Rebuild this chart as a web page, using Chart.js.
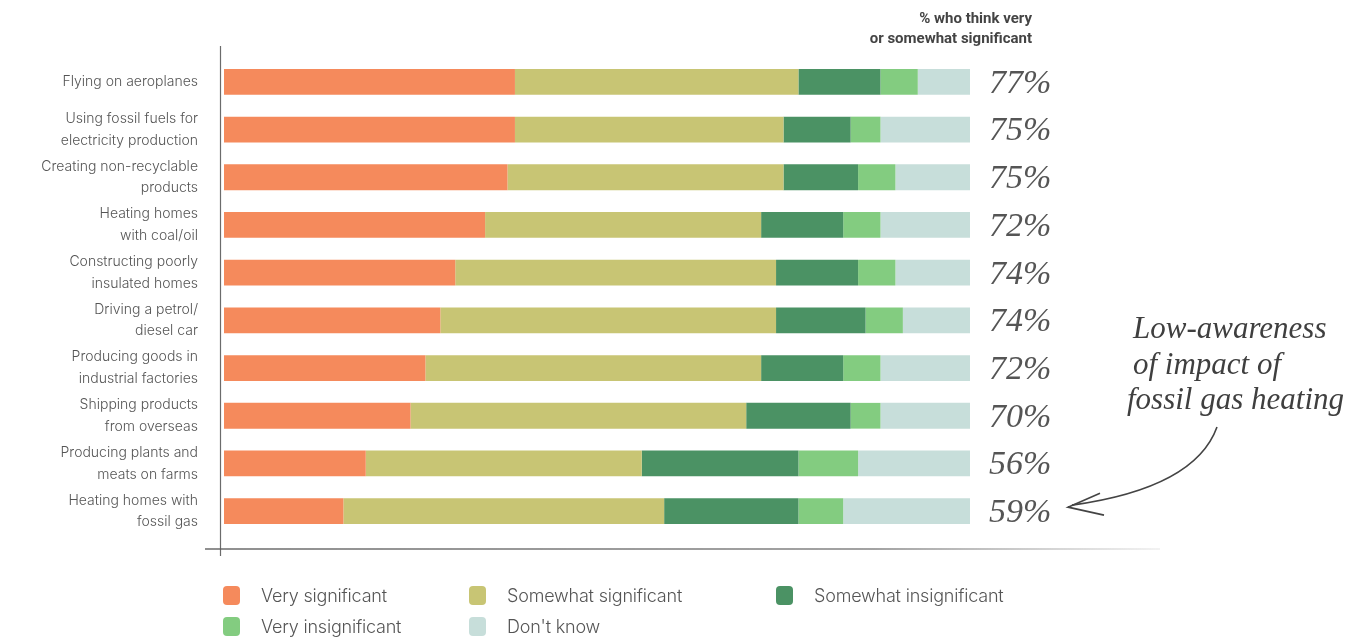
<!DOCTYPE html>
<html>
<head>
<meta charset="utf-8">
<script src="https://cdn.jsdelivr.net/npm/chart.js@4.4.0/dist/chart.umd.min.js"></script>
<style>
  html, body { margin: 0; padding: 0; background: #fff; }
  #wrap { position: relative; width: 1361px; height: 639px; }
  #legend { position: absolute; left: 223px; top: 585px; width: 900px; font-family: Inter, "Noto Sans", sans-serif; font-weight: 300; font-size: 18px; color: #555; letter-spacing: -0.2px; }
  .item { position: absolute; display: flex; align-items: center; height: 20px; }
  .sw { width: 17px; height: 19px; border-radius: 4px; margin-right: 21px; }
</style>
</head>
<body>
<div id="wrap">
  <canvas id="chart" width="1361" height="639"></canvas>
  <div id="legend"></div>
</div>

<script>
  // categories (top to bottom)
  const categories = [
    ['Flying on aeroplanes'],
    ['Using fossil fuels for', 'electricity production'],
    ['Creating non-recyclable', 'products'],
    ['Heating homes', 'with coal/oil'],
    ['Constructing poorly', 'insulated homes'],
    ['Driving a petrol/', 'diesel car'],
    ['Producing goods in', 'industrial factories'],
    ['Shipping products', 'from overseas'],
    ['Producing plants and', 'meats on farms'],
    ['Heating homes with', 'fossil gas']
  ];

  // share of respondents, %
  const verySignificant       = [39, 39, 38, 35, 31, 29, 27, 25, 19, 16];
  const somewhatSignificant   = [38, 36, 37, 37, 43, 45, 45, 45, 37, 43];
  const somewhatInsignificant = [11,  9, 10, 11, 11, 12, 11, 14, 21, 18];
  const veryInsignificant     = [ 5,  4,  5,  5,  5,  5,  5,  4,  8,  6];
  const dontKnow              = [ 7, 12, 10, 12, 10,  9, 12, 12, 15, 17];

  // % who think very or somewhat significant (right-hand column)
  const significantPct = [77, 75, 75, 72, 74, 74, 72, 70, 56, 59];

  const seriesNames  = ['Very significant', 'Somewhat significant', 'Somewhat insignificant', 'Very insignificant', "Don't know"];
  const seriesValues = [verySignificant, somewhatSignificant, somewhatInsignificant, veryInsignificant, dontKnow];
  const seriesColors = ['#F58A5C', '#C8C574', '#4B9264', '#83CC80', '#C7DEDA'];

  const annotationLines = ['Low-awareness', 'of impact of', 'fossil gas heating'];

  // extra drawing: axis lines, header, % column, note + arrow
  const decorations = {
    id: 'decorations',
    afterDatasetsDraw(chart) {
      const ctx = chart.ctx;
      ctx.save();

      // y axis line
      ctx.strokeStyle = '#6b6b6b';
      ctx.lineWidth = 1.2;
      ctx.beginPath();
      ctx.moveTo(220.5, 46);
      ctx.lineTo(220.5, 556);
      ctx.stroke();

      // x axis line, fading out to the right
      const g = ctx.createLinearGradient(205, 0, 1160, 0);
      g.addColorStop(0, 'rgba(90,90,90,0.9)');
      g.addColorStop(0.7, 'rgba(90,90,90,0.75)');
      g.addColorStop(1, 'rgba(90,90,90,0.1)');
      ctx.strokeStyle = g;
      ctx.lineWidth = 1.5;
      ctx.beginPath();
      ctx.moveTo(205, 549);
      ctx.lineTo(1160, 549);
      ctx.stroke();

      // header
      ctx.fillStyle = '#444';
      ctx.font = 'bold 15px Roboto, "Noto Sans", sans-serif';
      ctx.textAlign = 'right';
      ctx.textBaseline = 'middle';
      ctx.fillText('% who think very', 1032, 19);
      ctx.fillText('or somewhat significant', 1032, 39);

      // % column, positioned on the bars
      const meta = chart.getDatasetMeta(seriesValues.length - 1);
      ctx.fillStyle = '#555';
      ctx.font = 'italic 34px "Liberation Serif", "DejaVu Serif", serif';
      ctx.textAlign = 'left';
      meta.data.forEach((bar, i) => {
        ctx.fillText(significantPct[i] + '%', 989, bar.y + 2);
      });

      // annotation
      ctx.fillStyle = '#3f3f3f';
      ctx.font = 'italic 31px "Liberation Serif", "DejaVu Serif", serif';
      ctx.fillText(annotationLines[0], 1133, 330);
      ctx.fillText(annotationLines[1], 1133, 366);
      ctx.fillText(annotationLines[2], 1127, 401);

      const last = meta.data[meta.data.length - 1];
      ctx.strokeStyle = '#444';
      ctx.lineWidth = 1.6;
      ctx.beginPath();
      ctx.moveTo(1217, 427);
      ctx.quadraticCurveTo(1195, 488, 1072, last.y - 6);
      ctx.stroke();
      ctx.beginPath();
      ctx.moveTo(1100, last.y - 18);
      ctx.lineTo(1068, last.y - 4);
      ctx.lineTo(1104, last.y + 4);
      ctx.stroke();

      ctx.restore();
    }
  };

  new Chart('chart', {
    type: 'bar',
    data: {
      labels: categories,
      datasets: seriesValues.map((vals, k) => ({
        label: seriesNames[k],
        data: vals,
        backgroundColor: seriesColors[k],
        borderWidth: 0,
        barPercentage: 0.54,
        categoryPercentage: 1.0
      }))
    },
    options: {
      indexAxis: 'y',
      responsive: false,
      animation: false,
      layout: { padding: { left: 0, right: 391, top: 58, bottom: 104 } },
      scales: {
        x: { stacked: true, min: 0, max: 100, display: false },
        y: {
          stacked: true,
          border: { display: false },
          grid: { display: false, drawTicks: false },
          ticks: {
            padding: 26,
            color: '#555',
            font: { family: 'Inter, "Noto Sans", sans-serif', size: 14, weight: 300, lineHeight: 1.55 }
          },
          afterFit(scale) { scale.width = 224; }
        }
      },
      plugins: {
        legend: { display: false },
        tooltip: { enabled: false }
      }
    },
    plugins: [decorations]
  });

  // legend in two rows, like the original
  const legendPos = [[0, 0], [246, 0], [553, 0], [0, 31], [246, 31]];
  const legendEl = document.getElementById('legend');
  seriesNames.forEach((name, k) => {
    const it = document.createElement('div');
    it.className = 'item';
    it.style.left = legendPos[k][0] + 'px';
    it.style.top = legendPos[k][1] + 'px';
    it.innerHTML = '<span class="sw" style="background:' + seriesColors[k] + '"></span><span>' + name + '</span>';
    legendEl.appendChild(it);
  });
</script>
</body>
</html>
